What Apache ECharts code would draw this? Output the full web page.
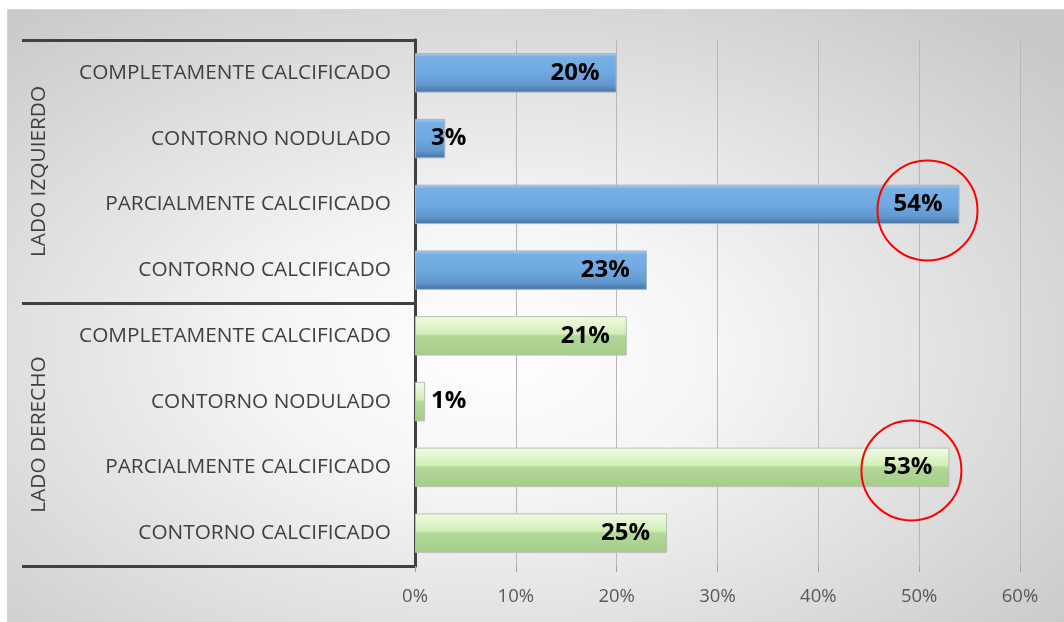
<!DOCTYPE html>
<html><head><meta charset="utf-8">
<script src="https://cdn.jsdelivr.net/npm/echarts@6/dist/echarts.min.js"></script>
<style>
html,body{margin:0;padding:0;background:#fff;}
#wrap{position:relative;width:1064px;height:622px;overflow:hidden;}
#bg{position:absolute;left:7px;top:9px;right:0;bottom:0;border-left:1px solid #d4d4d4;border-top:1px solid #d4d4d4;background:radial-gradient(ellipse farthest-corner at 46% 56%, #ffffff 0%, #f5f5f5 28%, #c9c9c9 92%);}
#chart{position:absolute;left:0;top:0;width:1064px;height:622px;}
</style></head><body>
<div id="wrap"><div id="bg"></div><div id="chart"></div></div>
<script>
const groups = ['LADO IZQUIERDO', 'LADO DERECHO'];
const subcategories = ['COMPLETAMENTE CALCIFICADO', 'CONTORNO NODULADO', 'PARCIALMENTE CALCIFICADO', 'CONTORNO CALCIFICADO'];
const izquierdoValues = [20, 3, 54, 23];
const derechoValues = [21, 1, 53, 25];
const xTicks = [0, 10, 20, 30, 40, 50, 60];

const categories = subcategories.concat(subcategories);
const blank = subcategories.map(() => '-');

function items(vals) {
  return vals.map(v => v === '-' ? '-' : {
    value: v,
    label: v < 5 ? { position: 'insideLeft', distance: 16 } : {}
  });
}

const chart = echarts.init(document.getElementById('chart'), null, { renderer: 'canvas' });
const FONT = 'Open Sans';

const blueGrad = new echarts.graphic.LinearGradient(0, 0, 0, 1, [
  { offset: 0, color: '#a9d0f2' }, { offset: 0.1, color: '#78b0e5' },
  { offset: 0.5, color: '#6fa8e0' }, { offset: 0.8, color: '#6398d0' }, { offset: 1, color: '#46739f' }
]);
const greenGrad = new echarts.graphic.LinearGradient(0, 0, 0, 1, [
  { offset: 0, color: '#f0fce4' }, { offset: 0.45, color: '#d2edb8' },
  { offset: 0.5, color: '#b2d898' }, { offset: 1, color: '#a6cc8a' }
]);

const labelCfg = {
  show: true, position: 'insideRight', distance: 17,
  formatter: '{c}%', color: '#000', fontFamily: FONT, fontWeight: 'bold', fontSize: 24
};

chart.setOption({
  animation: false,
  backgroundColor: 'transparent',
  grid: { left: 415, right: 44, top: 40, bottom: 56, containLabel: false },
  xAxis: {
    type: 'value', min: xTicks[0], max: xTicks[xTicks.length - 1], interval: 10,
    axisLine: { show: false },
    axisTick: { show: true, length: 6, lineStyle: { color: '#a0a0a0' } },
    splitLine: { show: true, lineStyle: { color: '#b8b8b8', width: 1 } },
    axisLabel: { formatter: '{value}%', color: '#595959', fontFamily: FONT, fontSize: 18.5, margin: 21 }
  },
  yAxis: [
    {
      type: 'category', data: categories, inverse: true,
      axisLine: { show: true, lineStyle: { color: '#404040', width: 3 } },
      axisTick: { show: false },
      axisLabel: { color: '#404040', fontFamily: FONT, fontSize: 20.8, margin: 24 }
    },
    {
      type: 'category', data: groups, inverse: true, position: 'left',
      axisLine: { show: true, lineStyle: { color: '#404040', width: 3 } },
      axisTick: { show: true, interval: 0, length: 393, lineStyle: { color: '#404040', width: 3 } },
      axisLabel: { rotate: 90, margin: 365, color: '#404040', fontFamily: FONT, fontSize: 20.8, interval: 0 },
      splitLine: { show: false }
    }
  ],
  series: [
    {
      name: groups[0], type: 'bar', stack: 'g', yAxisIndex: 0, barWidth: '60%',
      data: items(izquierdoValues.concat(blank)),
      itemStyle: { color: blueGrad, borderColor: '#a9b3bd', borderWidth: 1 },
      label: labelCfg,
      markPoint: {
        silent: true, symbol: 'circle', symbolSize: 100,
        itemStyle: { color: 'rgba(0,0,0,0)', borderColor: '#ff0000', borderWidth: 2 },
        label: { show: false },
        data: [{ type: 'max', symbolOffset: [-32, 6] }]
      }
    },
    {
      name: groups[1], type: 'bar', stack: 'g', yAxisIndex: 0, barWidth: '60%',
      data: items(blank.concat(derechoValues)),
      itemStyle: { color: greenGrad, borderColor: '#b7bfb2', borderWidth: 1 },
      label: labelCfg,
      markPoint: {
        silent: true, symbol: 'circle', symbolSize: 100,
        itemStyle: { color: 'rgba(0,0,0,0)', borderColor: '#ff0000', borderWidth: 2 },
        label: { show: false },
        data: [{ type: 'max', symbolOffset: [-38, 3] }]
      }
    }
  ]
});
</script>
</body></html>
